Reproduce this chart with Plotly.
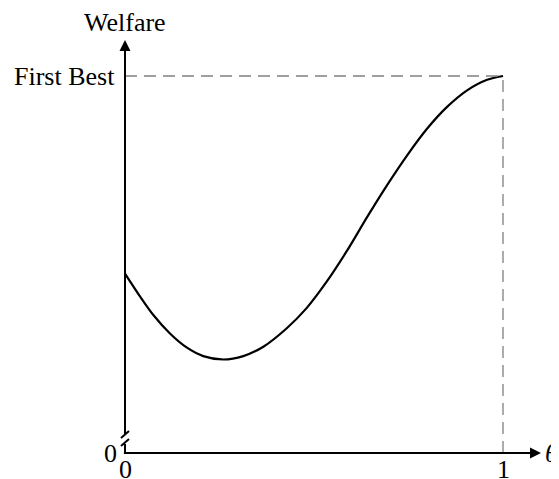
import plotly.graph_objects as go

# Data
theta = [0.0, 0.040, 0.075, 0.119, 0.163, 0.207, 0.260, 0.313, 0.366, 0.428, 0.481,
         0.534, 0.587, 0.640, 0.693, 0.746, 0.799, 0.852, 0.905, 0.958, 1.0]
welfare = [0.476, 0.415, 0.366, 0.317, 0.280, 0.257, 0.248, 0.257, 0.282, 0.331, 0.385,
           0.455, 0.536, 0.625, 0.710, 0.789, 0.860, 0.918, 0.962, 0.990, 1.0]
first_best = 1.0
x_ticks = [0, 1]
x_tick_labels = ["0", "1"]

W, H = 559, 479
OFF = 8  # page body margin offset
x0px, y0px, sx, sy = 125 - OFF, 453 - OFF, 378, 377
xr = [-x0px / sx, (W - x0px) / sx]
yr = [(y0px - H) / sy, y0px / sy]


def py(p):
    return (y0px - (p - OFF)) / sy


def px(p):
    return ((p - OFF) - x0px) / sx


FONT = "Liberation Serif"
FS = 26
fig = go.Figure()
fig.add_trace(go.Scatter(x=theta, y=welfare, mode="lines",
                         line=dict(color="black", width=2.2, shape="spline", smoothing=0.8),
                         hoverinfo="skip", showlegend=False))

shapes = []
dash = "12px,7px"
shapes.append(dict(type="line", x0=0, x1=1, y0=first_best, y1=first_best, xref="x", yref="y",
                   line=dict(color="#808080", width=1.3, dash=dash)))
shapes.append(dict(type="line", x0=1, x1=1, y0=0, y1=first_best, xref="x", yref="y",
                   line=dict(color="#808080", width=1.3, dash=dash)))
# y-axis with break
shapes.append(dict(type="line", x0=0, x1=0, y0=py(434), y1=py(44), xref="x", yref="y",
                   line=dict(color="black", width=2)))
shapes.append(dict(type="line", x0=0, x1=0, y0=0, y1=py(444), xref="x", yref="y",
                   line=dict(color="black", width=2)))
shapes.append(dict(type="line", x0=px(121), x1=px(129), y0=py(438), y1=py(431), xref="x", yref="y",
                   line=dict(color="black", width=2)))
shapes.append(dict(type="line", x0=px(121), x1=px(129), y0=py(446), y1=py(439), xref="x", yref="y",
                   line=dict(color="black", width=2)))
# x-axis
shapes.append(dict(type="line", x0=-0.003, x1=px(536), y0=0, y1=0, xref="x", yref="y",
                   line=dict(color="black", width=2)))

annotations = [
    dict(x=0, y=py(40), ax=0, ay=py(60), xref="x", yref="y", axref="x", ayref="y",
         showarrow=True, arrowhead=2, arrowsize=1.1, arrowwidth=2, arrowcolor="black", text=""),
    dict(x=px(541), y=0, ax=px(520), ay=0, xref="x", yref="y", axref="x", ayref="y",
         showarrow=True, arrowhead=2, arrowsize=1.1, arrowwidth=2, arrowcolor="black", text=""),
    dict(x=0, y=py(22), text="Welfare", showarrow=False, xref="x", yref="y",
         font=dict(family=FONT, size=FS, color="black")),
    dict(x=px(117), y=first_best, text="First Best", showarrow=False, xref="x", yref="y",
         xanchor="right", font=dict(family=FONT, size=FS, color="black")),
    dict(x=px(110), y=0, text="0", showarrow=False, xref="x", yref="y",
         font=dict(family=FONT, size=FS, color="black")),
    dict(x=px(551), y=0, text="<i>θ</i>", showarrow=False, xref="x", yref="y",
         font=dict(family=FONT, size=FS, color="black")),
]
for t, lab in zip(x_ticks, x_tick_labels):
    annotations.append(dict(x=t, y=py(469), text=lab, showarrow=False, xref="x", yref="y",
                            font=dict(family=FONT, size=FS, color="black")))

fig.update_layout(
    width=W, height=H, margin=dict(l=0, r=0, t=0, b=0),
    paper_bgcolor="white", plot_bgcolor="white",
    xaxis=dict(range=xr, visible=False, fixedrange=True),
    yaxis=dict(range=yr, visible=False, fixedrange=True),
    shapes=shapes, annotations=annotations, showlegend=False,
)
fig.write_html("out.html")
